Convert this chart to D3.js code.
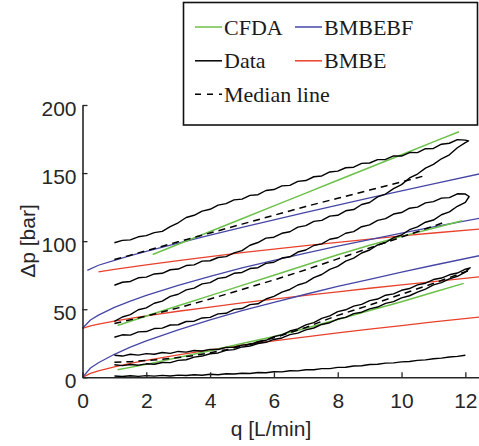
<!DOCTYPE html>
<html><head><meta charset="utf-8">
<script src="https://cdn.jsdelivr.net/npm/d3@7"></script>
<style>html,body{margin:0;padding:0;background:#fff}</style>
</head><body><svg id="c" width="479" height="446"></svg>
<script>
// ---- data ----
const xTicks = [0,2,4,6,8,10,12];
const yTicks = [0,50,100,150,200];

const qGrid = [1,1.25,1.5,1.75,2,2.25,2.5,2.75,3,3.25,3.5,3.75,4,4.25,4.5,4.75,5,5.25,5.5,5.75,6,6.25,6.5,6.75,7,7.25,7.5,7.75,8,8.25,8.5,8.75,9,9.25,9.5,9.75,10,10.25,10.5,10.75,11,11.25,11.5,11.75,12];

const topUpper = [98.8,100.6,100.9,103.2,104.1,106.3,107.2,110.6,113.5,117.4,119.0,122.1,123.4,126.5,127.6,130.3,130.9,133.6,134.1,137.2,137.9,140.6,141.0,143.9,144.5,147.3,147.9,150.8,151.4,153.9,154.3,157.1,157.4,159.9,160.0,162.6,162.5,165.1,165.0,167.9,168.1,171.2,171.9,174.6,174.2];
const topLower = [67.6,69.8,70.4,73.1,73.6,75.9,76.4,79.0,79.5,82.1,82.6,85.3,85.6,88.0,88.6,91.4,93.0,97.0,99.0,102.2,102.9,105.8,106.9,110.3,111.4,114.5,115.3,118.4,119.0,122.3,123.2,126.9,128.4,132.5,134.6,138.6,141.5,146.4,149.3,153.6,156.4,160.5,163.4,168.6,172.4];
const topTurn = [12.1,173.6];

const midUpper = [41.0,44.3,46.0,49.6,51.0,54.4,56.0,59.4,61.0,64.2,65.5,68.6,69.5,72.7,73.5,76.4,77.0,79.9,80.5,83.7,84.5,87.6,88.5,92.0,93.5,96.8,98.0,101.4,102.5,105.8,107.0,110.6,112.0,115.3,116.5,119.9,121.0,124.2,125.0,128.1,129.0,131.6,132.0,134.8,134.6];
const midLower = [29.4,31.2,31.0,33.4,33.6,35.8,36.1,38.4,38.6,41.0,41.2,43.6,44.0,46.6,47.0,49.9,50.5,53.4,54.0,57.5,59.5,62.6,64.5,67.8,69.5,73.2,75.5,79.3,81.5,85.3,87.5,91.3,93.5,97.2,99.0,102.6,104.5,108.4,110.5,113.9,115.5,119.4,121.5,125.6,128.5];
const midTurn = [12.12,132.8];

const botUpper = [16.2,15.6,16.9,16.3,17.4,16.9,18.2,17.6,19.0,18.5,19.7,19.3,20.5,20.4,22.0,22.1,23.6,24.1,26.1,27.2,29.9,31.2,34.0,35.6,38.5,40.2,43.3,45.1,48.2,49.6,52.3,53.6,56.3,57.5,60.3,61.3,63.9,65.2,67.9,69.1,71.8,72.9,75.3,76.6,79.4];
const botLower = [9.2,8.6,9.4,8.9,9.9,9.6,10.9,10.8,12.4,12.9,14.8,15.6,17.3,17.9,19.8,20.3,22.3,22.9,24.8,25.7,27.8,28.9,31.3,32.4,34.8,36.2,38.8,40.1,42.8,44.0,46.8,47.8,50.3,51.6,54.3,55.6,58.3,59.9,62.6,64.8,67.9,69.5,72.3,74.2,77.3];
const botTurn = [12.15,80.4];

const baseData = [1.0,0.6,1.1,0.7,1.2,0.9,1.4,1.0,1.6,1.3,1.9,1.5,2.2,1.9,2.6,2.4,3.0,2.8,3.5,3.3,4.1,4.0,4.8,4.7,5.5,5.5,6.4,6.4,7.3,7.4,8.3,8.5,9.4,9.6,10.4,10.6,11.3,11.6,12.4,12.8,13.6,14.1,14.9,15.4,16.2];

const modelQ = [0,0.25,0.5,1,1.5,2,3,4,5,6,7,8,9,10,11,12.5];
const bmbebfBot = [0,6.8,10.7,16.9,22.1,26.7,34.9,42.2,48.9,55.1,61,66.7,72,77.2,82.3,89.6];
const bmbebfMid = [36,42.1,45.7,51.3,56,60.2,67.6,74.2,80.3,85.9,91.2,96.3,101.2,105.9,110.5,117.1];
const bmbebfTopQ = [0.15,0.5,1,1.5,2,3,4,5,6,7,8,9,10,11,12.5];
const bmbebfTop = [78.5,82.3,85.9,89.3,92.5,98.6,104.5,110.2,115.7,121.1,126.5,131.8,136.9,142.1,149.7];

const bmbeBot = [0,2.9,4.8,7.7,10.2,12.5,16.5,20.2,23.6,26.7,29.7,32.6,35.4,38,40.7,44.4];
const bmbeMid = [36,37.8,39.1,41.3,43.3,45.1,48.5,51.6,54.6,57.4,60.1,62.8,65.4,67.9,70.3,74];
const bmbeTopQ = [0.5,1,2,3,4,5,6,7,8,9,10,11,12.5];
const bmbeTop = [77.5,79.3,82.6,85.7,88.7,91.5,94.2,96.7,99.1,101.5,103.8,106,109];

const cfdaBotQ = [1.1,2,3,4,5,6,7,8,9,10,11,11.95];
const cfdaBot = [5.5,9.5,14.5,19.5,24.8,30,36,42.5,49,55.5,62.5,69];
const cfdaMidQ = [1.1,2,3,4,5,6,7,8,9,10,11,11.9];
const cfdaMid = [38,45,52.5,60,67.5,75,82.5,90,97,103.5,109.5,115];
const cfdaTopQ = [2.2,3,4,5,6,7,8,9,10,11,11.8];
const cfdaTop = [90.2,97.7,107.1,116.5,125.9,135.3,144.7,154.1,163.5,172.9,180.4];

const medTopQ = [1,1.5,2,3,4,5,6,7,8,9,10,10.8];
const medTop = [86.5,89.7,93,99.5,106,112.5,119,125.5,131.5,137.5,143.5,148.5];
const medMidQ = [1,2,3,4,5,6,7,8,9,10,11,11.3];
const medMid = [39.5,45,51,57.5,64.5,71.5,79,87,95,103,111,113.5];
const medBotQ = [1,1.5,2,2.5,3,3.5,4,4.5,5,5.5,6,7,8,9,10,11,12,12.15];
const medBot = [11,11.5,12.3,13.2,14.5,16,18,20.3,23,26,29,36.6,45.5,53,61,69,77.5,78.5];

const legendItems = [
  {label:"CFDA", color:"#6cc04a", dash:null, col:0, row:0},
  {label:"BMBEBF", color:"#4646a6", dash:null, col:1, row:0},
  {label:"Data", color:"#000", dash:null, col:0, row:1},
  {label:"BMBE", color:"#e8412c", dash:null, col:1, row:1},
  {label:"Median line", color:"#000", dash:"6,6", col:0, row:2}
];

// ---- drawing ----
const svg = d3.select("#c");
svg.append("rect").attr("width",479).attr("height",446).attr("fill","#fff");
const x = d3.scaleLinear().domain([0,12.5]).range([82.5,481.3]);
const y = d3.scaleLinear().domain([0,200]).range([377.3,105]);
const line = d3.line().x(d=>x(d[0])).y(d=>y(d[1]));
const zip = (qs, ps) => qs.map((q,i)=>[q,ps[i]]);

const GREEN="#6cc04a", BLUE="#4646a6", RED="#e8412c";
const g = svg.append("g");
function draw(pts, color, w, dash){
  const p = g.append("path").attr("d", line(pts)).attr("fill","none")
    .attr("stroke",color).attr("stroke-width",w).attr("stroke-linejoin","round");
  if (dash) p.attr("stroke-dasharray", dash);
}
// models
draw(zip(modelQ,bmbeBot),RED,1.3);
draw(zip(modelQ,bmbeMid),RED,1.3);
draw(zip(bmbeTopQ,bmbeTop),RED,1.3);
draw(zip(modelQ,bmbebfBot),BLUE,1.3);
draw(zip(modelQ,bmbebfMid),BLUE,1.3);
draw(zip(bmbebfTopQ,bmbebfTop),BLUE,1.3);
draw(zip(cfdaBotQ,cfdaBot),GREEN,1.5);
draw(zip(cfdaMidQ,cfdaMid),GREEN,1.5);
draw(zip(cfdaTopQ,cfdaTop),GREEN,1.5);
// medians
draw(zip(medBotQ,medBot),"#000",1.5,"7,5");
draw(zip(medMidQ,medMid),"#000",1.5,"7,5");
draw(zip(medTopQ,medTop),"#000",1.5,"7,5");
// data loops
function loop(up, turn, low){
  const a = zip(qGrid, up);
  const b = zip(qGrid, low).reverse();
  return a.concat([turn]).concat(b);
}
draw(loop(botUpper,botTurn,botLower),"#000",1.4);
draw(loop(midUpper,midTurn,midLower),"#000",1.4);
draw(loop(topUpper,topTurn,topLower),"#000",1.4);
draw(zip(qGrid,baseData),"#000",1.4);

// axes
const AX="#262626";
const xa = svg.append("g").attr("transform","translate(0,377.3)")
  .call(d3.axisBottom(x).tickValues(xTicks).tickSizeInner(-5).tickSizeOuter(0).tickPadding(16));
const ya = svg.append("g").attr("transform","translate(82.5,0)")
  .call(d3.axisLeft(y).tickValues(yTicks).tickSizeInner(-5).tickSizeOuter(0).tickPadding(6));
[xa,ya].forEach(a=>{
  a.select(".domain").attr("stroke",AX).attr("stroke-width",1.6);
  a.selectAll(".tick line").attr("stroke",AX).attr("stroke-width",1.3);
  a.selectAll("text").attr("fill",AX).style("font-family","'Liberation Sans', Arial, sans-serif").style("font-size","21px");
});
ya.selectAll("text").attr("dy","0.48em");

svg.append("text").attr("x",271).attr("y",436).attr("text-anchor","middle")
  .attr("fill",AX).style("font-family","'Liberation Sans', Arial, sans-serif").style("font-size","21px")
  .text("q [L/min]");
svg.append("text").attr("transform","translate(35,241) rotate(-90)").attr("text-anchor","middle")
  .attr("fill",AX).style("font-family","'Liberation Sans', Arial, sans-serif").style("font-size","21px")
  .text("Δp [bar]");

// legend
const lg = svg.append("g");
lg.append("rect").attr("x",183.5).attr("y",2.5).attr("width",294).attr("height",122.5)
  .attr("fill","#fff").attr("stroke","#111").attr("stroke-width",1.6);
const colX = [195,295], rowY = [34.5,68.3,101.7];
legendItems.forEach(it=>{
  const x0 = colX[it.col], yb = rowY[it.row];
  const l = lg.append("line").attr("x1",x0).attr("x2",x0+27).attr("y1",yb-7.5).attr("y2",yb-7.5)
    .attr("stroke",it.color).attr("stroke-width",1.5);
  if (it.dash) l.attr("stroke-dasharray",it.dash);
  lg.append("text").attr("x",x0+29).attr("y",yb).attr("fill","#1a1a1a")
    .style("font-family","'Liberation Serif','Times New Roman',serif").style("font-size","22px")
    .text(it.label);
});
</script></body></html>
